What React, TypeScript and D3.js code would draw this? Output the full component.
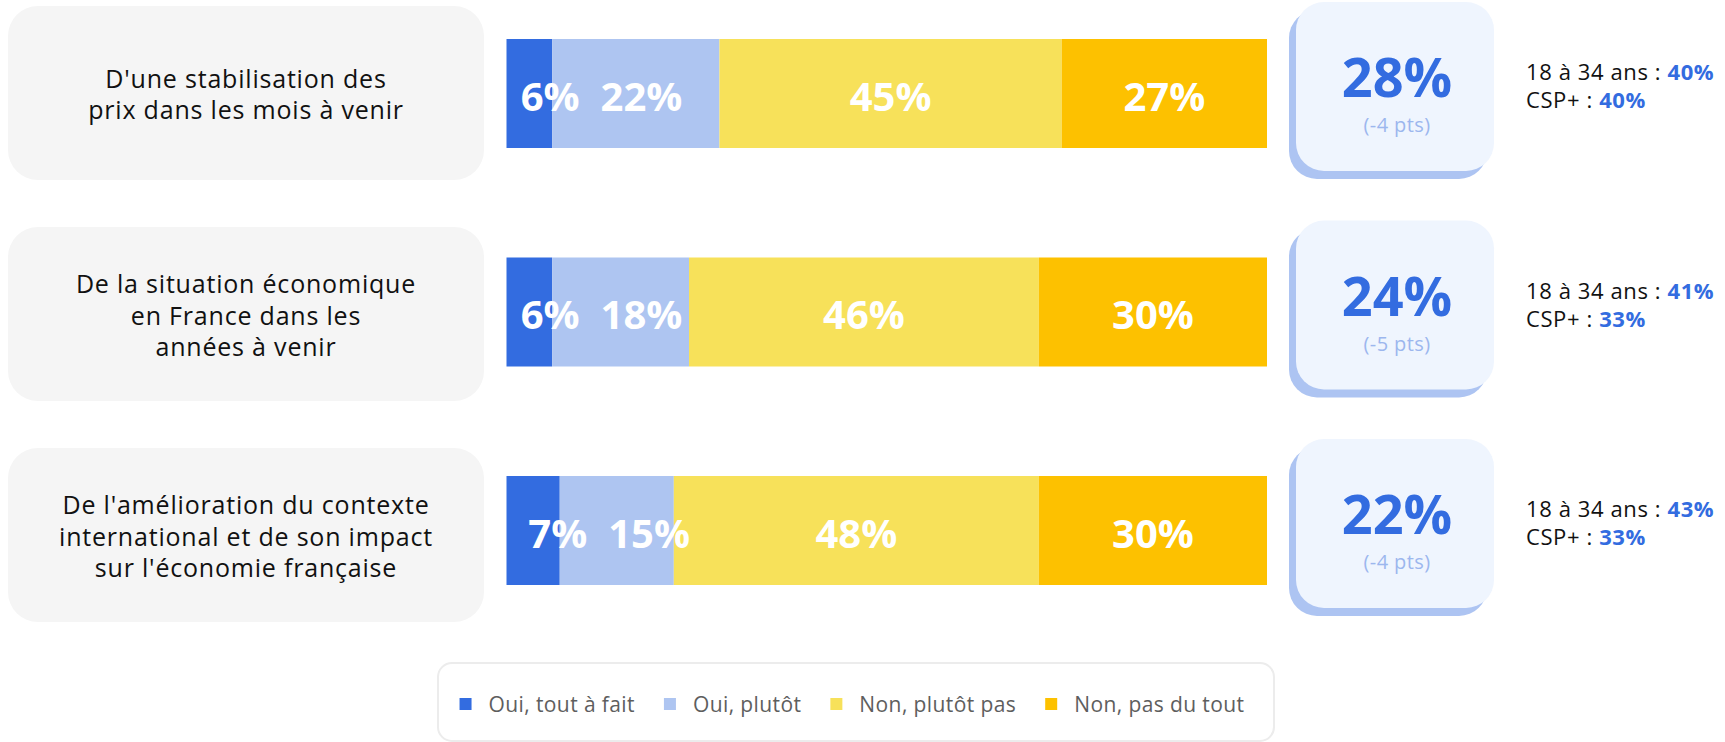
import React, { useEffect, useRef } from "react";
import * as d3 from "d3";

const categories: string[][] = [
  ["D'une stabilisation des", "prix dans les mois à venir"],
  ["De la situation économique", "en France dans les", "années à venir"],
  ["De l'amélioration du contexte", "international et de son impact", "sur l'économie française"],
];
const seriesNames = ["Oui, tout à fait", "Oui, plutôt", "Non, plutôt pas", "Non, pas du tout"];
const ouiToutAFait = [6, 6, 7];
const ouiPlutot = [22, 18, 15];
const nonPlutotPas = [45, 46, 48];
const nonPasDuTout = [27, 30, 30];
const totalOui = [28, 24, 22];
const evolutionPts = [-4, -5, -4];
const age18to34 = [40, 41, 43];
const cspPlus = [40, 33, 33];
const colors = ["#336ce0", "#aec5f1", "#f7e15a", "#fdc100"];

const W = 1725;
const H = 742;
const FONT = "'Open Sans', 'DejaVu Sans', sans-serif";

export default function App() {
  const ref = useRef<SVGSVGElement | null>(null);

  useEffect(() => {
    const svg = d3.select(ref.current);
    svg.selectAll("*").remove();

    const last = categories.length - 1;
    const x = d3.scaleLinear().domain([0, 100]).range([506.5, 1267]);
    const yBar = d3.scaleLinear().domain([0, last]).range([93.5, 530.5]);
    const yBox = d3.scaleLinear().domain([0, last]).range([93, 535]);
    const yKpi = d3.scaleLinear().domain([0, last]).range([2, 439]);
    const barH = 109;

    categories.forEach((lines, i) => {
      const c = yBar(i);
      const g = svg.append("g");

      // label box
      const bc = yBox(i);
      g.append("rect")
        .attr("x", 8)
        .attr("y", bc - 87)
        .attr("width", 476)
        .attr("height", 174)
        .attr("rx", 30)
        .attr("fill", "#f5f5f5");
      const n = lines.length;
      const lh = 31.5;
      const mean = bc + 10.5;
      lines.forEach((t, k) => {
        g.append("text")
          .attr("x", 246)
          .attr("y", mean + (k - (n - 1) / 2) * lh)
          .attr("text-anchor", "middle")
          .attr("font-family", FONT)
          .attr("font-size", 25)
          .attr("letter-spacing", 0.8)
          .attr("fill", "#111")
          .text(t);
      });

      // stacked bar
      const vals = [ouiToutAFait[i], ouiPlutot[i], nonPlutotPas[i], nonPasDuTout[i]];
      const stack = d3.cumsum(vals);
      const segs = vals.map((v, j) => ({ v, x0: x(stack[j] - v), x1: x(stack[j]), color: colors[j] }));
      g.selectAll("rect.seg")
        .data(segs)
        .join("rect")
        .attr("class", "seg")
        .attr("x", (d) => d.x0)
        .attr("y", c - barH / 2)
        .attr("width", (d) => d.x1 - d.x0)
        .attr("height", barH)
        .attr("fill", (d) => d.color);

      // labels with overlap avoidance
      let prevRight = -Infinity;
      segs.forEach((s) => {
        const t = g
          .append("text")
          .attr("y", c + 17)
          .attr("font-family", FONT)
          .attr("font-size", 40)
          .attr("font-weight", 700)
          .attr("fill", "#fff")
          .text(`${s.v}%`);
        const w = (t.node() as SVGTextElement).getComputedTextLength();
        let center = (s.x0 + s.x1) / 2;
        if (s.x1 - s.x0 < w) center = s.x1 - 2;
        let left = center - w / 2;
        left = Math.max(left, prevRight + 21);
        prevRight = left + w;
        t.attr("x", left);
      });

      // KPI box
      const top = yKpi(i);
      g.append("rect")
        .attr("x", 1289)
        .attr("y", top + 8)
        .attr("width", 198)
        .attr("height", 169)
        .attr("rx", 28)
        .attr("fill", "#adc4f2");
      g.append("rect")
        .attr("x", 1296)
        .attr("y", top)
        .attr("width", 198)
        .attr("height", 169)
        .attr("rx", 28)
        .attr("fill", "#eff5fe");
      g.append("text")
        .attr("x", 1397)
        .attr("y", top + 95)
        .attr("text-anchor", "middle")
        .attr("font-family", FONT)
        .attr("font-size", 54)
        .attr("font-weight", 700)
        .attr("fill", "#336ce0")
        .text(`${totalOui[i]}%`);
      g.append("text")
        .attr("x", 1397)
        .attr("y", top + 130)
        .attr("text-anchor", "middle")
        .attr("font-family", FONT)
        .attr("font-size", 20)
        .attr("letter-spacing", 0.4)
        .attr("fill", "#9cb7ee")
        .text(`(${evolutionPts[i]} pts)`);

      // side text
      const side = [
        { label: "18 à 34 ans : ", v: age18to34[i], dy: 78 },
        { label: "CSP+ : ", v: cspPlus[i], dy: 106 },
      ];
      side.forEach((s) => {
        const t = g
          .append("text")
          .attr("x", 1526)
          .attr("y", top + s.dy)
          .attr("font-family", FONT)
          .attr("font-size", 22)
          .attr("letter-spacing", 0.6)
          .attr("fill", "#111");
        t.append("tspan").text(s.label);
        t.append("tspan").attr("font-weight", 700).attr("fill", "#336ce0").text(`${s.v}%`);
      });
    });

    // legend
    const lg = svg.append("g");
    lg.append("rect")
      .attr("x", 438)
      .attr("y", 663)
      .attr("width", 836)
      .attr("height", 78)
      .attr("rx", 14)
      .attr("fill", "#fff")
      .attr("stroke", "#ececec")
      .attr("stroke-width", 2);
    const items = seriesNames.map((name, j) => {
      const gi = lg.append("g");
      gi.append("rect").attr("x", 0).attr("y", 698).attr("width", 12).attr("height", 12).attr("fill", colors[j]);
      const t = gi
        .append("text")
        .attr("x", 29)
        .attr("y", 712)
        .attr("font-family", FONT)
        .attr("font-size", 21)
        .attr("letter-spacing", 0.4)
        .attr("fill", "#5e5e5e")
        .text(name);
      const w = 29 + (t.node() as SVGTextElement).getComputedTextLength();
      return { gi, w };
    });
    const gap = 29;
    const total = d3.sum(items, (d) => d.w) + gap * (items.length - 1);
    let cx = 852 - total / 2;
    items.forEach((it) => {
      it.gi.attr("transform", `translate(${cx},0)`);
      cx += it.w + gap;
    });
  }, []);

  return (
    <svg
      ref={ref}
      width={W}
      height={H}
      style={{ position: "absolute", left: 0, top: 0, display: "block", background: "#fff" }}
    />
  );
}
